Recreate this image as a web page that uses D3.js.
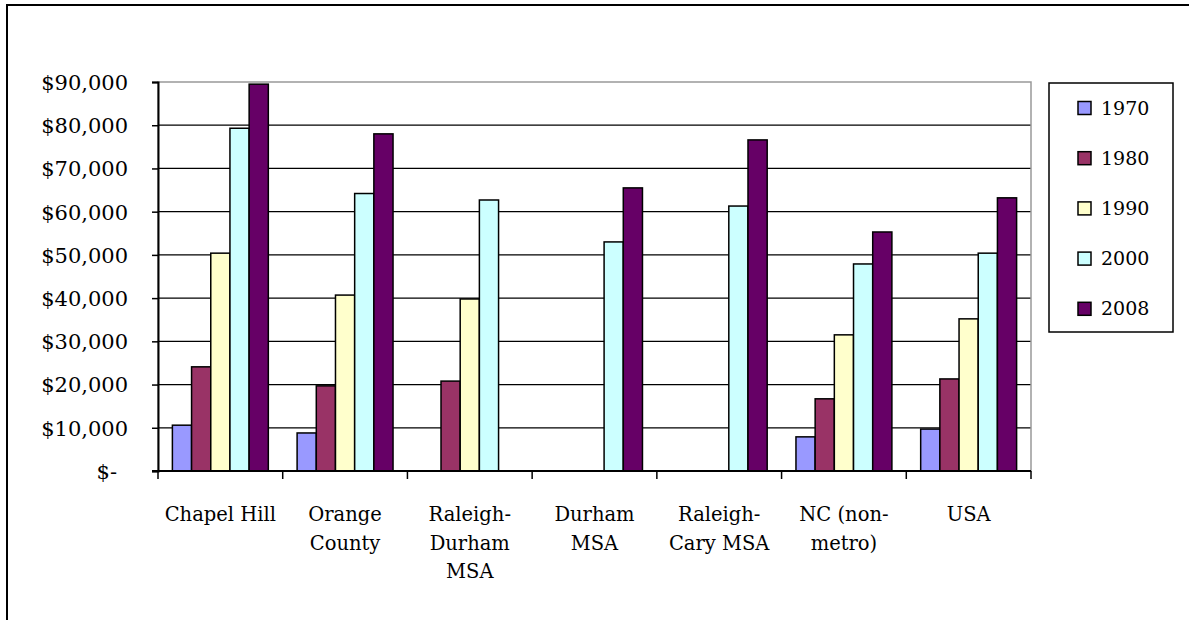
<!DOCTYPE html>
<html>
<head>
<meta charset="utf-8">
<script src="https://cdn.jsdelivr.net/npm/d3@7"></script>
<style>
  body { margin: 0; background: #fff; }
  svg text { fill: #000; }
</style>
</head>
<body>
<div id="chart"></div>
<script>
// categories (line breaks as in the original axis labels)
const categories = ["Chapel Hill", "Orange\nCounty", "Raleigh-\nDurham\nMSA", "Durham\nMSA", "Raleigh-\nCary MSA", "NC (non-\nmetro)", "USA"];
const years = ["1970", "1980", "1990", "2000", "2008"];
const colours = ["#9999ff", "#993366", "#ffffcc", "#ccffff", "#660066"];

const v1970 = [10600, 8800, null, null, null, 7900, 9700];
const v1980 = [24100, 19700, 20800, null, null, 16700, 21300];
const v1990 = [50400, 40700, 39800, null, null, 31500, 35200];
const v2000 = [79300, 64200, 62700, 53000, 61300, 47900, 50400];
const v2008 = [89500, 78000, null, 65500, 76600, 55300, 63200];
const series = [v1970, v1980, v1990, v2000, v2008];

const yTicks = [0, 10000, 20000, 30000, 40000, 50000, 60000, 70000, 80000, 90000];

const width = 1189, height = 620;
const margin = { top: 82, right: 158, bottom: 149, left: 158 };
const serif = "DejaVu Serif";

const svg = d3.select("#chart").append("svg").attr("width", width).attr("height", height)
  .style("font-family", serif);

// outer chart border (right and bottom fall outside the picture)
svg.append("rect").attr("x", 7).attr("y", 5).attr("width", 1200).attr("height", 640)
  .attr("fill", "none").attr("stroke", "#000").attr("stroke-width", 2);

let x0 = d3.scaleBand().domain(d3.range(categories.length)).range([margin.left, width - margin.right]).padding(0);
let x1 = d3.scaleBand().domain(d3.range(years.length)).range([0, x0.bandwidth()]).paddingInner(0).paddingOuter(0.75);
let y = d3.scaleLinear().domain([0, 90000]).range([height - margin.bottom, margin.top]);

// gridlines
svg.append("g").selectAll("line").data(yTicks.filter(d => d > 0 && d < 90000)).enter().append("line")
  .attr("x1", margin.left).attr("x2", width - margin.right)
  .attr("y1", d => y(d)).attr("y2", d => y(d))
  .attr("stroke", "#000").attr("stroke-width", 1.3);

// plot area border
svg.append("rect").attr("x", margin.left).attr("y", margin.top)
  .attr("width", width - margin.left - margin.right).attr("height", y(0) - margin.top)
  .attr("fill", "none").attr("stroke", "#999").attr("stroke-width", 1.5);

// bars
let bars = [];
series.forEach((s, si) => s.forEach((v, ci) => { if (v != null) bars.push({ s: si, c: ci, value: v }); }));

svg.append("g").selectAll("rect.bar").data(bars).enter().append("rect").attr("class", "bar")
  .attr("x", d => x0(d.c) + x1(d.s)).attr("width", x1.bandwidth())
  .attr("y", d => y(d.value)).attr("height", d => y(0) - y(d.value))
  .style("fill", d => colours[d.s]).attr("stroke", "#000").attr("stroke-width", 1.5);

// y axis
let yAxis = d3.axisLeft(y).tickValues(yTicks).tickSize(6).tickPadding(24)
  .tickFormat(d => d === 0 ? "$-" : "$" + d3.format(",")(d));
let gy = svg.append("g").attr("transform", `translate(${margin.left},0)`).call(yAxis);
gy.attr("font-family", null);
gy.select(".domain").attr("stroke", "#000").attr("stroke-width", 2);
gy.selectAll(".tick line").attr("stroke", "#000").attr("stroke-width", 1.5);
gy.selectAll(".tick text").style("font-size", "21px").attr("dy", "0.35em");
gy.selectAll(".tick text").filter(d => d === 0).attr("dx", -11);

// x axis baseline and boundary ticks
svg.append("line").attr("x1", margin.left - 6).attr("x2", width - margin.right)
  .attr("y1", y(0)).attr("y2", y(0)).attr("stroke", "#000").attr("stroke-width", 2);
let bounds = d3.range(categories.length).map(i => x0(i)).concat([x0.range()[1]]);
svg.append("g").selectAll("line").data(bounds).enter().append("line")
  .attr("x1", d => d).attr("x2", d => d).attr("y1", y(0)).attr("y2", y(0) + 8)
  .attr("stroke", "#000").attr("stroke-width", 1.5);

// category labels
let labels = svg.append("g").selectAll("text").data(categories).enter().append("text")
  .attr("x", (d, i) => x0(i) + x0.bandwidth() / 2).attr("y", y(0) + 50)
  .style("text-anchor", "middle").style("font-size", "19.5px");
labels.each(function (d) {
  let t = d3.select(this);
  d.split("\n").forEach((line, k) => {
    t.append("tspan").attr("x", t.attr("x")).attr("dy", k === 0 ? 0 : 28.5).text(line);
  });
});

// legend
let legend = svg.append("g");
legend.append("rect").attr("x", 1049).attr("y", 83).attr("width", 124).attr("height", 249)
  .attr("fill", "#fff").attr("stroke", "#000").attr("stroke-width", 1.5);
let items = legend.selectAll("g.item").data(years).enter().append("g").attr("class", "item")
  .attr("transform", (d, i) => `translate(1078, ${108 + i * 50.2})`);
items.append("rect").attr("x", 0).attr("y", -6.5).attr("width", 13).attr("height", 13)
  .style("fill", (d, i) => colours[i]).attr("stroke", "#000").attr("stroke-width", 1.5);
items.append("text").attr("x", 23).attr("dy", "0.35em").style("font-size", "19px").text(d => d);
</script>
</body>
</html>
